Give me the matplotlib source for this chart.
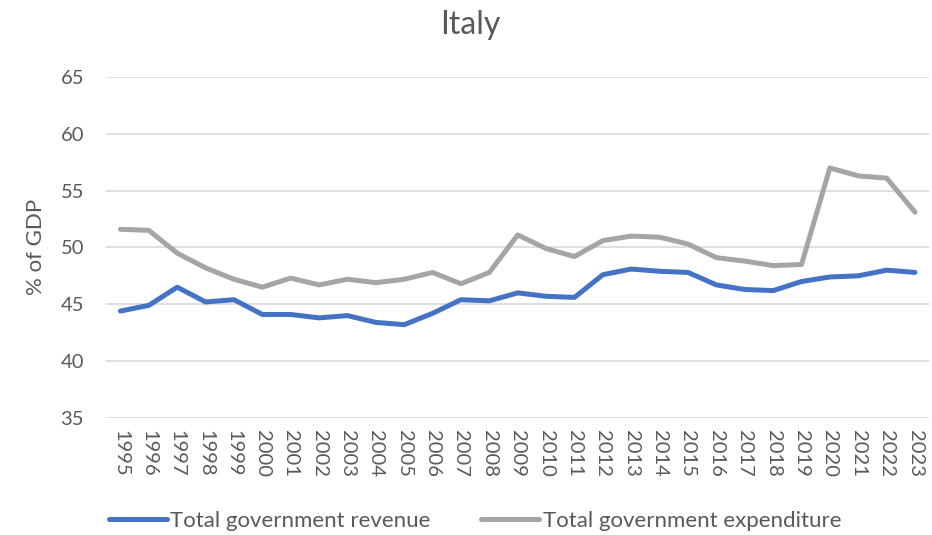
import matplotlib
matplotlib.use("Agg")
import matplotlib.pyplot as plt

plt.rcParams['font.family'] = ['Lato', 'DejaVu Sans']

years = list(range(1995, 2024))
revenue = [44.4, 44.9, 46.5, 45.2, 45.4, 44.1, 44.1, 43.8, 44.0, 43.4,
           43.2, 44.2, 45.4, 45.3, 46.0, 45.7, 45.6, 47.6, 48.1, 47.9,
           47.8, 46.7, 46.3, 46.2, 47.0, 47.4, 47.5, 48.0, 47.8]
expenditure = [51.6, 51.5, 49.5, 48.2, 47.2, 46.5, 47.3, 46.7, 47.2, 46.9,
               47.2, 47.8, 46.8, 47.8, 51.1, 49.9, 49.2, 50.6, 51.0, 50.9,
               50.3, 49.1, 48.8, 48.4, 48.5, 57.0, 56.3, 56.1, 53.1]
yticks = [35, 40, 45, 50, 55, 60, 65]

TXT = "#595959"
fig = plt.figure(figsize=(9.32, 5.35), dpi=100)
ax = fig.add_axes([0.114, 0.219, 0.883, 0.637])
x = range(len(years))
ax.plot(x, revenue, color="#4472C4", lw=3.6, solid_capstyle="round", solid_joinstyle="round",
        label="Total government revenue", zorder=3)
ax.plot(x, expenditure, color="#A5A5A5", lw=3.6, solid_capstyle="round", solid_joinstyle="round",
        label="Total government expenditure", zorder=3)
ax.set_xlim(-0.5, len(years) - 0.5)
ax.set_ylim(35, 65)
ax.set_yticks(yticks)
ax.set_yticklabels([str(v) for v in yticks], fontsize=14.5, color=TXT)
ax.set_xticks(list(x))
ax.set_xticklabels([str(y) for y in years], rotation=-90, fontsize=14.5, color=TXT)
ax.tick_params(axis="y", length=0, pad=16)
ax.tick_params(axis="x", length=0, pad=9)
ax.grid(axis="y", color="#D9D9D9", lw=1.2)
ax.set_axisbelow(True)
for s in ax.spines.values():
    s.set_visible(False)
fig.text(36 / 932, 1 - 247 / 535, "% of GDP", rotation=90, ha="center", va="center",
         fontsize=16, color=TXT)
fig.text(470 / 932, 1 - 25 / 535, "Italy", ha="center", va="center", fontsize=23, color=TXT)
fig.legend(loc="center", bbox_to_anchor=(475 / 932, 1 - 521 / 535), ncol=2, frameon=False,
           fontsize=16, handlelength=2.6, handletextpad=0.15, columnspacing=2.3,
           labelcolor=TXT)
fig.savefig("out.png", dpi=100)
